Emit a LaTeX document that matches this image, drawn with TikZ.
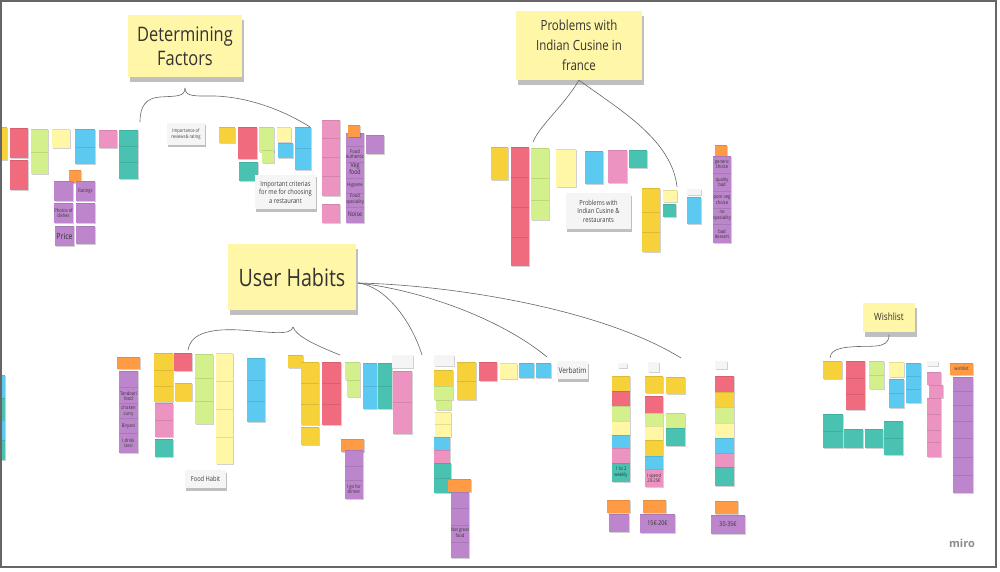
\documentclass[tikz,border=0pt]{standalone}
\usepackage{fontspec}
\setmainfont{Open Sans}
\newfontfamily\cnd[FakeStretch=0.82]{Open Sans}
\usetikzlibrary{shadows}
\definecolor{cy}{HTML}{F6D13A}
\definecolor{ly}{HTML}{FFF6A6}
\definecolor{rd}{HTML}{EF6B7D}
\definecolor{lg}{HTML}{D3F08C}
\definecolor{cn}{HTML}{5CC9F0}
\definecolor{pk}{HTML}{EC93C1}
\definecolor{tl}{HTML}{49C2B1}
\definecolor{pu}{HTML}{BD86CC}
\definecolor{og}{HTML}{FF9B45}
\definecolor{ttly}{HTML}{FFF6A8}
\definecolor{cardc}{HTML}{F5F5F5}
\tikzset{
  stsh/.style={drop shadow={shadow xshift=0.5pt,shadow yshift=-1pt,opacity=0.18,fill=black}},
  segl/.style={draw=black,opacity=0.1,line width=0.6pt},
  ttl/.style={fill=ttly,text=black!80,align=center,inner sep=2pt,
    drop shadow={shadow xshift=1.5pt,shadow yshift=-5pt,opacity=0.25,fill=black}},
  card/.style={fill=cardc,text=black!75,align=center,inner sep=1pt,
    drop shadow={shadow xshift=0.5pt,shadow yshift=-2.5pt,opacity=0.25,fill=black}},
  conn/.style={draw=black!60,line width=0.6pt},
  ntx/.style={text=black!80,align=center,inner sep=0pt,font=\cnd\fontsize{5}{5.6}\selectfont},
  ntm/.style={ntx,font=\cnd\fontsize{6.5}{7}\selectfont},
  ntb/.style={ntx,font=\cnd\fontsize{8.5}{9}\selectfont},
}
\newcommand\stk[5]{\path[fill=#1,stsh] (#2,#3) rectangle (#4,#5);\draw[segl] (#2,#3+0.3) -- (#4,#3+0.3);}
\begin{document}
\begin{tikzpicture}[x=1pt,y=-1pt]
\useasboundingbox (0,0) rectangle (1000,572);
\fill[white] (0,0) rectangle (1000,572);

% ---------- titles ----------
\node[ttl,minimum width=114pt,minimum height=62pt,font=\cnd\fontsize{20}{24}\selectfont] (df) at (185,46) {Determining\\Factors};
\node[ttl,minimum width=126pt,minimum height=69pt,font=\cnd\fontsize{14}{20}\selectfont] (pb) at (579,45.5) {Problems with\\Indian Cusine in\\france};
\node[ttl,minimum width=128pt,minimum height=66pt,font=\cnd\fontsize{24}{26}\selectfont] (uh) at (292,277) {User Habits};
\node[ttl,minimum width=52pt,minimum height=29pt,font=\cnd\fontsize{10}{12}\selectfont] (wl) at (889,317) {Wishlist};

% ---------- cluster 1 ----------
\stk{cy}{0}{127}{7}{160}
\stk{rd}{10}{128}{28}{158}
\stk{rd}{10}{160}{28}{190}
\stk{lg}{31}{129}{48}{152}
\stk{lg}{31}{152}{48}{174}
\stk{ly}{52}{129}{70}{148}
\stk{cn}{75}{129}{95}{147}
\stk{cn}{75}{147}{95}{164}
\stk{pk}{99}{130}{117}{148}
\stk{tl}{119}{130}{138}{146}
\stk{tl}{119}{146}{138}{162}
\stk{tl}{119}{162}{138}{179}
\stk{og}{69}{170}{81}{183}
\stk{pu}{54}{181}{73}{201}
\stk{pu}{76}{181}{95}{201}
\stk{pu}{54}{203}{73}{223}
\stk{pu}{76}{203}{95}{223}
\stk{pu}{55}{226}{74}{246}
\stk{pu}{76}{226}{95}{244}
\node[ntx] (n1a) at (85.5,191) {Ratings};
\node[ntx] (n1b) at (63.5,213) {Photos of\\dishes};
\node[ntb] (n1c) at (64.5,236) {Price};

% ---------- cluster 2 ----------
\node[card,minimum width=38pt,minimum height=22pt,font=\cnd\fontsize{5}{6.5}\selectfont] (imp) at (186,134) {Importance of\\reviews\& rating};
\stk{cy}{219}{127}{235}{143}
\stk{rd}{238}{127}{257}{159}
\stk{tl}{239}{162}{258}{181}
\stk{lg}{259}{127}{274}{152}
\stk{lg}{262}{150}{274}{163}
\stk{ly}{277}{127}{291}{142}
\stk{cn}{278}{143}{293}{158}
\stk{cn}{295}{127}{311}{148}
\stk{cn}{295}{148}{311}{170}
\node[card,minimum width=61pt,minimum height=34pt,font=\cnd\fontsize{7}{8.5}\selectfont] (crit) at (285.5,192) {Important criterias\\for me for choosing\\a restaurant};
\stk{pk}{322}{120}{340}{138}
\stk{pk}{322}{138}{340}{157}
\stk{pk}{322}{157}{340}{176}
\stk{pk}{322}{176}{340}{196}
\stk{pk}{322}{204}{340}{223}
\stk{pu}{346}{133}{364}{146}
\stk{pu}{346}{146}{364}{162}
\stk{pu}{346}{162}{364}{178}
\stk{pu}{346}{178}{364}{193}
\stk{pu}{346}{193}{364}{207}
\stk{pu}{346}{207}{364}{223}
\stk{og}{348}{125}{360}{137}
\stk{pu}{366}{135}{384}{154}
\node[ntx] (n2a) at (355,154) {Food\\Authentic};
\node[ntm] (n2b) at (355,169) {Veg\\food};
\node[ntx] (n2c) at (355,185) {Hygiene};
\node[ntx] (n2d) at (355,199) {Food\\speciality};
\node[ntm] (n2e) at (355,214) {Noise};

% ---------- cluster 3 ----------
\stk{cy}{491}{147}{508}{180}
\stk{rd}{511}{147}{529}{177}
\stk{rd}{511}{177}{529}{207}
\stk{rd}{511}{207}{529}{237}
\stk{rd}{511}{237}{529}{266}
\stk{lg}{531}{148}{549}{178}
\stk{lg}{531}{178}{549}{200}
\stk{lg}{531}{200}{549}{220}
\stk{ly}{556}{149}{576}{187}
\stk{cn}{585}{151}{603}{184}
\stk{pk}{608}{150}{627}{183}
\stk{tl}{629}{150}{647}{168}
\node[card,minimum width=65pt,minimum height=36pt,font=\cnd\fontsize{7}{8.5}\selectfont] (prob) at (598.5,211) {Problems with\\Indian Cusine \&\\restaurants};
\stk{cy}{642}{188}{660}{212}
\stk{cy}{642}{212}{660}{232}
\stk{cy}{642}{232}{660}{252}
\stk{ly}{663}{190}{677}{202}
\stk{tl}{663}{204}{676}{217}
\path[fill=cardc,stsh] (687,189) rectangle (701,195);
\stk{cn}{687}{197}{701}{224}
\stk{og}{715}{145}{727}{157}
\stk{pu}{713}{156}{731}{173}
\stk{pu}{713}{173}{731}{191}
\stk{pu}{713}{191}{731}{208}
\stk{pu}{713}{208}{731}{224}
\stk{pu}{713}{224}{731}{243}
\node[ntx] (n3a) at (722,164) {generic\\choice};
\node[ntx] (n3b) at (722,182) {quality\\bad};
\node[ntx] (n3c) at (722,200) {poor veg\\choice};
\node[ntx] (n3d) at (722,216) {no\\speciality};
\node[ntx] (n3e) at (722,234) {bad\\dessert};

% ---------- cluster 4 ----------
\stk{og}{117}{357}{140}{369}
\stk{pu}{119}{371}{138}{387}
\stk{pu}{119}{387}{138}{403}
\stk{pu}{119}{403}{138}{418}
\stk{pu}{119}{418}{138}{433}
\stk{pu}{119}{433}{138}{453}
\node[ntx] (n4a) at (128.5,396) {Tandoori\\food};
\node[ntx] (n4b) at (128.5,411) {chicken\\curry};
\node[ntx] (n4c) at (128.5,426) {Biryani};
\node[ntx] (n4d) at (128.5,443) {I drink\\lassi};
\stk{cy}{154}{353}{173}{370}
\stk{cy}{154}{370}{173}{386}
\stk{cy}{154}{386}{173}{402}
\stk{pk}{155}{403}{173}{420}
\stk{pk}{155}{420}{173}{437}
\stk{tl}{155}{439}{173}{457}
\stk{rd}{174}{353}{192}{371}
\stk{cy}{175}{383}{192}{401}
\stk{lg}{195}{354}{213}{378}
\stk{lg}{195}{378}{213}{401}
\stk{lg}{195}{401}{213}{424}
\stk{ly}{216}{353}{233}{381}
\stk{ly}{216}{381}{233}{409}
\stk{ly}{216}{409}{233}{437}
\stk{ly}{216}{437}{233}{464}
\stk{cn}{247}{358}{265}{380}
\stk{cn}{247}{380}{265}{401}
\stk{cn}{247}{401}{265}{422}
\node[card,minimum width=41pt,minimum height=18pt,font=\cnd\fontsize{7}{8}\selectfont] (fh) at (205.5,479) {Food Habit};

% ---------- cluster 5 ----------
\stk{cy}{288}{355}{303}{368}
\stk{cy}{301}{362}{319}{383}
\stk{cy}{301}{383}{319}{404}
\stk{cy}{301}{404}{319}{425}
\stk{cy}{301}{427}{319}{445}
\stk{rd}{322}{362}{341}{383}
\stk{rd}{322}{383}{341}{404}
\stk{rd}{322}{404}{341}{425}
\stk{lg}{345}{362}{360}{380}
\stk{lg}{347}{380}{360}{397}
\stk{cn}{363}{363}{377}{386}
\stk{cn}{363}{386}{377}{409}
\stk{tl}{378}{363}{392}{386}
\stk{tl}{378}{386}{392}{409}
\path[fill=cardc,stsh] (392,355) rectangle (413,368);
\stk{pk}{393}{371}{412}{402}
\stk{pk}{393}{402}{412}{434}
\stk{og}{341}{439}{364}{452}
\stk{pu}{345}{450}{363}{466}
\stk{pu}{345}{466}{363}{480}
\stk{pu}{345}{480}{363}{499}
\node[ntx] (n5a) at (354,489) {I go for\\dinner};

% ---------- cluster 6 ----------
\path[fill=cardc,stsh] (434,355) rectangle (454,366);
\stk{cy}{434}{370}{453}{386}
\stk{lg}{434}{386}{453}{400}
\stk{lg}{436}{400}{451}{410}
\stk{ly}{435}{412}{451}{424}
\stk{ly}{435}{424}{451}{437}
\stk{cn}{434}{437}{450}{450}
\stk{pk}{434}{450}{450}{463}
\stk{tl}{434}{463}{451}{478}
\stk{tl}{434}{478}{451}{493}
\stk{og}{448}{479}{471}{492}
\stk{pu}{451}{492}{469}{508}
\stk{pu}{451}{508}{469}{525}
\stk{pu}{451}{525}{469}{542}
\stk{pu}{451}{542}{469}{558}
\node[ntx] (n6a) at (460,533) {Not great\\food};
\stk{cy}{457}{362}{476}{381}
\stk{cy}{457}{381}{476}{400}
\stk{rd}{479}{362}{497}{381}
\stk{ly}{500}{363}{517}{379}
\stk{cn}{519}{363}{534}{378}
\stk{cn}{536}{363}{551}{378}
\node[card,minimum width=31pt,minimum height=18pt,font=\cnd\fontsize{8}{9}\selectfont] (verb) at (572.5,370) {Verbatim};

% ---------- cluster 7 ----------
\path[fill=cardc,stsh] (618,363) rectangle (627,368);
\stk{cy}{612}{376}{630}{391}
\stk{rd}{612}{391}{630}{406}
\stk{lg}{612}{406}{630}{421}
\stk{ly}{612}{421}{630}{435}
\stk{cn}{612}{435}{630}{448}
\stk{pk}{612}{448}{630}{463}
\stk{tl}{612}{463}{630}{482}
\node[ntx] (n7a) at (621,472.5) {1 to 2\\weekly};
\path[fill=cardc,stsh] (648,362) rectangle (659,372);
\stk{cy}{645}{376}{663}{393}
\stk{rd}{645}{396}{663}{413}
\stk{lg}{645}{413}{663}{426}
\stk{ly}{645}{426}{663}{440}
\stk{cy}{645}{440}{663}{456}
\stk{cn}{645}{456}{663}{469}
\stk{pk}{645}{469}{663}{487}
\node[ntx] (n7b) at (654,478) {I spend\\20-25€};
\stk{cy}{666}{377}{685}{394}
\stk{lg}{666}{413}{685}{428}
\stk{tl}{666}{428}{685}{446}
\path[fill=cardc,stsh] (715,361) rectangle (727,369);
\stk{rd}{715}{376}{734}{392}
\stk{cy}{715}{392}{734}{407}
\stk{lg}{715}{407}{734}{423}
\stk{ly}{715}{423}{734}{438}
\stk{cn}{715}{438}{734}{453}
\stk{pk}{715}{453}{734}{467}
\stk{tl}{715}{467}{734}{486}
\stk{og}{607}{500}{630}{513}
\stk{pu}{609}{514}{629}{532}
\stk{og}{643}{500}{666}{513}
\stk{pu}{640}{514}{675}{533}
\node[ntm] (n7c) at (657.5,523.5) {15€-20€};
\stk{og}{715}{501}{738}{514}
\stk{pu}{711}{515}{745}{534}
\node[ntm] (n7d) at (728,524.5) {30-35€};

% ---------- cluster 8 ----------
\stk{cy}{823}{361}{842}{379}
\stk{rd}{846}{361}{865}{378}
\stk{rd}{846}{378}{865}{394}
\stk{rd}{846}{394}{865}{410}
\stk{lg}{869}{361}{884}{375}
\stk{lg}{869}{375}{884}{389}
\stk{ly}{889}{362}{904}{377}
\stk{cn}{889}{379}{904}{393}
\stk{cn}{889}{393}{904}{408}
\stk{cn}{906}{363}{921}{376}
\stk{cn}{906}{376}{921}{389}
\stk{cn}{906}{389}{921}{403}
\path[fill=cardc,stsh] (927,361) rectangle (938,366);
\stk{pk}{927}{372}{941}{385}
\stk{pk}{929}{385}{943}{398}
\stk{pk}{927}{398}{941}{414}
\stk{pk}{927}{414}{941}{430}
\stk{pk}{927}{430}{941}{442}
\stk{pk}{927}{442}{941}{457}
\stk{og}{950}{363}{973}{375}
\node[ntx] (n8a) at (961.5,369) {wishlist};
\stk{pu}{953}{377}{973}{391}
\stk{pu}{953}{391}{973}{405}
\stk{pu}{953}{405}{973}{421}
\stk{pu}{953}{421}{973}{438}
\stk{pu}{953}{438}{973}{457}
\stk{pu}{953}{457}{973}{475}
\stk{pu}{953}{475}{973}{493}
\stk{tl}{823}{414}{843}{431}
\stk{tl}{823}{431}{843}{448}
\stk{tl}{844}{429}{863}{448}
\stk{tl}{865}{429}{883}{448}
\stk{tl}{884}{421}{903}{438}
\stk{tl}{884}{438}{903}{455}

% ---------- left edge ----------
\stk{cn}{0}{375}{5}{398}
\stk{tl}{0}{398}{5}{420}
\stk{cn}{0}{420}{5}{440}
\stk{tl}{0}{440}{5}{460}

% ---------- connectors ----------
\coordinate (dft) at (185,88);
\coordinate (dfl) at (140,122);
\coordinate (dfr) at (310,127);
\draw[conn] (dft) .. controls (185,97) and (176,96) .. (160,97) .. controls (146,98) and (140,106) .. (dfl);
\draw[conn] (dft) .. controls (185,97) and (195,96) .. (215,96) .. controls (245,97) and (280,108) .. (dfr);
\coordinate (pbl) at (533,142);
\coordinate (pbr) at (677,187);
\draw[conn] (pb.south) .. controls (562,108) and (540,125) .. (pbl);
\draw[conn] (pb.south) .. controls (620,110) and (672,140) .. (pbr);
\coordinate (uht) at (293,327);
\coordinate (uhl) at (188,350);
\coordinate (uhr) at (340,355);
\draw[conn] (uht) .. controls (291,336) and (270,332) .. (240,330) .. controls (205,328) and (190,336) .. (uhl);
\draw[conn] (uht) .. controls (296,336) and (315,345) .. (uhr);
\coordinate (uhe) at (358,283);
\coordinate (uc1) at (422,355);
\coordinate (uc2) at (547,357);
\coordinate (uc3) at (681,358);
\draw[conn] (uhe) .. controls (385,286) and (411,320) .. (uc1);
\draw[conn] (uhe) .. controls (420,290) and (500,318) .. (uc2);
\draw[conn] (uhe) .. controls (450,285) and (600,308) .. (uc3);
\coordinate (wlt) at (889,335);
\coordinate (wle) at (830,358);
\draw[conn] (wlt) .. controls (889,350) and (870,345) .. (850,347) .. controls (836,348) and (830,352) .. (wle);

% ---------- logo and frame ----------
\node[text=black!45,font=\fontsize{11}{12}\selectfont\bfseries] (miro) at (962,543) {miro};
\draw[black!60,line width=1.5pt] (1,1) rectangle (996,567);
\end{tikzpicture}
\end{document}
